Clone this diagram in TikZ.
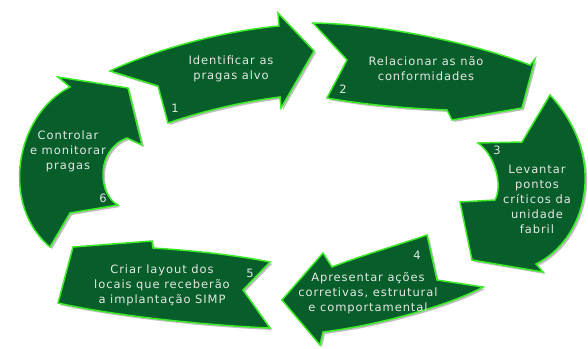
\documentclass[tikz,border=0pt]{standalone}
\usepackage{fontspec}
\setmainfont[LetterSpace=8]{DejaVu Sans}
\usepackage{tikz}
\usetikzlibrary{shadows}
\definecolor{leafgreen}{RGB}{8,94,42}
\definecolor{rimgreen}{RGB}{60,235,40}
\definecolor{labelgray}{RGB}{228,232,228}

\tikzset{
  cyclearrow/.style={fill=leafgreen, draw=rimgreen, line width=1.5pt, line join=miter,
    drop shadow={shadow xshift=2pt, shadow yshift=-2pt, opacity=.25, fill=black}},
  steplabel/.style={text=labelgray, align=center, inner sep=0pt,
    font=\fontsize{11.5}{15}\selectfont},
  stepnum/.style={text=labelgray, inner sep=0pt, font=\fontsize{11.5}{13}\selectfont}
}

\begin{document}
\begin{tikzpicture}[x=1pt, y=-1pt]
  \useasboundingbox (0,0) rectangle (588,348);

  % arrow 1
  \path[cyclearrow] (110,71) .. controls (150,52) and (215,32) .. (279,26)
    -- (278,13) -- (314,51) -- (281,108) -- (280,97)
    .. controls (240,102) and (200,112) .. (168,123) -- (158,86) -- cycle;
  % arrow 2
  \path[cyclearrow] (313,23) .. controls (380,24) and (470,42) .. (530,65)
    -- (535,59) -- (522,108) -- (452,120) -- (447,110)
    .. controls (400,108) and (360,104) .. (327,98) -- (347,60) -- cycle;
  % arrow 3
  \path[cyclearrow] (550,95) .. controls (610,160) and (585,240) .. (536,264)
    -- (543,272) -- (472,260) -- (460,202) -- (495,200)
    .. controls (503,185) and (495,155) .. (478,143) -- (522,142) -- cycle;
  % arrow 4
  \path[cyclearrow] (427,235) -- (437,280) -- (483,287)
    .. controls (450,305) and (380,325) .. (323,332)
    -- (320,345) -- (282,300) -- (323,253) -- (332,267)
    .. controls (360,256) and (395,246) .. cycle;
  % arrow 5
  \path[cyclearrow] (270,262) -- (243,290) -- (270,328)
    .. controls (200,325) and (110,315) .. (58,303)
    -- (73,247) -- (152,241) -- (153,248)
    .. controls (185,250) and (230,254) .. cycle;
  % arrow 6
  \path[cyclearrow] (50,247) -- (70,213) -- (118,205)
    .. controls (98,195) and (95,150) .. (127,138)
    -- (142,145) -- (128,88) -- (58,77) -- (70,87)
    .. controls (15,115) and (0,205) .. cycle;

  % labels
  \node[steplabel] (identificar) at (231,69) {Identificar as\\pragas alvo};
  \node[steplabel] (relacionar) at (426,69) {Relacionar as não\\conformidades};
  \node[steplabel] (levantar) at (537,199) {Levantar\\pontos\\críticos da\\unidade\\fabril};
  \node[steplabel] (apresentar) at (368,293) {Apresentar ações\\corretivas, estrutural\\e comportamental};
  \node[steplabel] (criar) at (162,285) {Criar layout dos\\locais que receberão\\a implantação SIMP};
  \node[steplabel] (controlar) at (68,151) {Controlar\\e monitorar\\pragas};

  % step numbers
  \node[stepnum] (n1) at (175,108) {1};
  \node[stepnum] (n2) at (343,89) {2};
  \node[stepnum] (n3) at (497,150) {3};
  \node[stepnum] (n4) at (417,255) {4};
  \node[stepnum] (n5) at (250,273) {5};
  \node[stepnum] (n6) at (103,198) {6};
\end{tikzpicture}
\end{document}
